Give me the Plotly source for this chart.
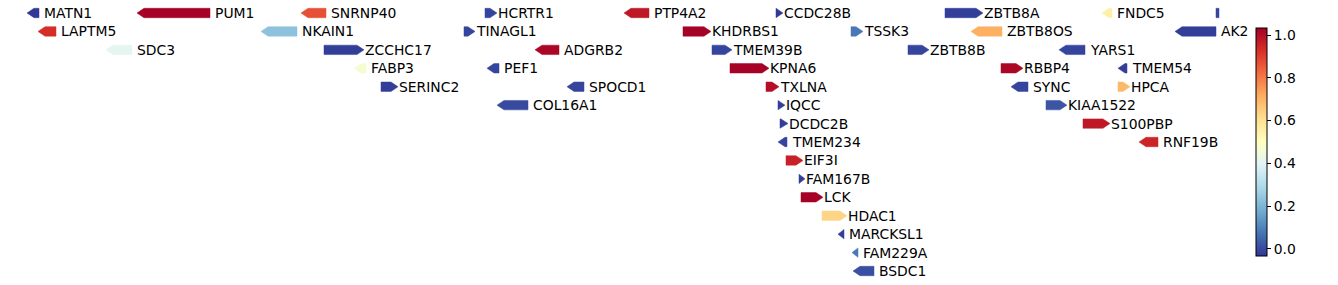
import plotly.graph_objects as go
from plotly.colors import sample_colorscale

# Gene track data (positions in track units, row = stacking level)
genes = ["MATN1", "PUM1", "SNRNP40", "HCRTR1", "PTP4A2", "CCDC28B", "ZBTB8A", "FNDC5", "",
         "LAPTM5", "NKAIN1", "TINAGL1", "KHDRBS1", "TSSK3", "ZBTB8OS", "AK2",
         "SDC3", "ZCCHC17", "ADGRB2", "TMEM39B", "ZBTB8B", "YARS1",
         "FABP3", "PEF1", "KPNA6", "RBBP4", "TMEM54",
         "SERINC2", "SPOCD1", "TXLNA", "SYNC", "HPCA",
         "COL16A1", "IQCC", "KIAA1522",
         "DCDC2B", "S100PBP",
         "TMEM234", "RNF19B",
         "EIF3I", "FAM167B", "LCK", "HDAC1", "MARCKSL1", "FAM229A", "BSDC1"]
starts = [27, 137, 301, 485, 624, 776, 945, 1102, 1216,
          38, 261, 464, 683, 851, 971, 1175,
          106, 324, 535, 712, 908, 1059,
          354, 487, 730, 1001, 1118,
          381, 567, 766, 1011, 1118,
          497, 778, 1046,
          780, 1083,
          778, 1139,
          786, 799, 801, 822, 838, 852, 853]
ends = [39, 210, 326, 497, 649, 783, 983, 1112, 1219,
        56, 297, 475, 711, 863, 1002, 1216,
        132, 364, 559, 732, 929, 1085,
        366, 499, 769, 1023, 1127,
        398, 584, 779, 1028, 1130,
        528, 785, 1067,
        788, 1110,
        787, 1158,
        803, 805, 823, 847, 844, 858, 874]
strands = [-1, -1, -1, 1, -1, 1, 1, -1, 0,
           -1, -1, 1, 1, 1, -1, -1,
           -1, 1, -1, 1, 1, -1,
           -1, -1, 1, 1, -1,
           1, -1, 1, -1, 1,
           -1, 1, 1,
           1, 1,
           -1, -1,
           1, 1, 1, 1, -1, -1, -1]
rows = [0, 0, 0, 0, 0, 0, 0, 0, 0,
        1, 1, 1, 1, 1, 1, 1,
        2, 2, 2, 2, 2, 2,
        3, 3, 3, 3, 3,
        4, 4, 4, 4, 4,
        5, 5, 5,
        6, 6,
        7, 7,
        8, 9, 10, 11, 12, 13, 14]
scores = [-0.03, 1.03, 0.87, -0.01, 0.98, -0.03, -0.02, 0.55, -0.01,
          0.93, 0.23, -0.01, 1.03, 0.08, 0.71, -0.02,
          0.41, -0.02, 1.02, -0.01, -0.01, -0.01,
          0.47, -0.01, 1.03, 1.02, -0.02,
          -0.02, -0.01, 1.00, -0.01, 0.69,
          0.00, -0.02, 0.02,
          -0.02, 0.98,
          -0.01, 0.95,
          0.96, -0.02, 1.03, 0.63, -0.02, 0.08, 0.01]

cmin, cmax = -0.033, 1.033
cticks = [0.0, 0.2, 0.4, 0.6, 0.8, 1.0]

HEAD = 7.0
HALF = 0.255
FONT = "DejaVu Sans"

fig = go.Figure()

for name, s, e, st, r, v in zip(genes, starts, ends, strands, rows, scores):
    t = min(max((v - cmin) / (cmax - cmin), 0.0), 1.0)
    col = sample_colorscale("RdYlBu_r", [t])[0]
    L = e - s
    hd = min(HEAD, L)
    if st == 1:
        xs = [s, e - hd, e, e - hd, s, s]
        ys = [r - HALF, r - HALF, r, r + HALF, r + HALF, r - HALF]
    elif st == -1:
        xs = [e, s + hd, s, s + hd, e, e]
        ys = [r - HALF, r - HALF, r, r + HALF, r + HALF, r - HALF]
    else:
        xs = [s, e, e, s, s]
        ys = [r - HALF, r - HALF, r + HALF, r + HALF, r - HALF]
    fig.add_trace(go.Scatter(x=xs, y=ys, mode="lines", fill="toself",
                             fillcolor=col, line=dict(color=col, width=0.5),
                             hoverinfo="text", text=name, showlegend=False))
    if name:
        fig.add_annotation(x=e, y=r, text=name, showarrow=False,
                           xanchor="left", yanchor="middle",
                           xshift=(4 if st == -1 else 0), borderpad=0,
                           font=dict(family=FONT, size=13.9, color="black"))

# colorbar via dummy trace
fig.add_trace(go.Scatter(
    x=[None], y=[None], mode="markers", showlegend=False, hoverinfo="skip",
    marker=dict(color=[0], colorscale="RdYlBu_r", cmin=cmin, cmax=cmax,
                showscale=True,
                colorbar=dict(x=1256 / 1338, xanchor="left", xpad=0, ypad=0,
                              y=1 - 142 / 285, yanchor="middle",
                              len=228, lenmode="pixels",
                              thickness=11, thicknessmode="pixels",
                              outlinewidth=1, outlinecolor="black",
                              tickvals=cticks, tickformat=".1f",
                              ticks="outside", ticklen=4, tickcolor="black",
                              tickfont=dict(family=FONT, size=13.9, color="black")))))

fig.update_layout(
    width=1338, height=285,
    margin=dict(l=0, r=0, t=0, b=0),
    plot_bgcolor="white", paper_bgcolor="white",
    xaxis=dict(range=[0, 1338], visible=False, fixedrange=True),
    yaxis=dict(range=[(285 - 13) / 18.43, -13 / 18.43], visible=False, fixedrange=True),
)

fig.write_html("out.html")
